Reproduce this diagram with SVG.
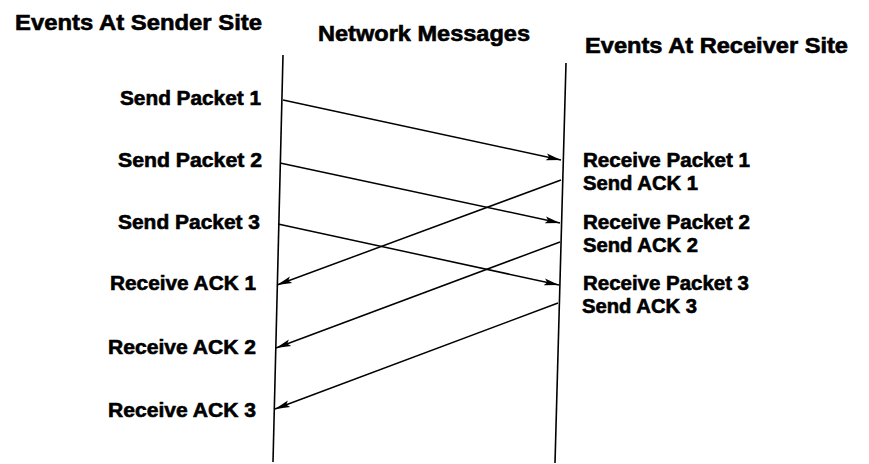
<svg xmlns="http://www.w3.org/2000/svg" width="869" height="464" viewBox="0 0 869 464">
<style>
text{font-family:"Liberation Sans",Arial,sans-serif;font-weight:bold;fill:#000;stroke:#000;stroke-width:0.6}
.h{font-size:22px}
.l{font-size:20.5px}
.ln{stroke:#000;stroke-width:1.6;fill:none}
.ar{stroke:#000;stroke-width:1.5;fill:none;marker-end:url(#ah)}
</style>
<defs>
<marker id="ah" markerWidth="16" markerHeight="10" refX="15" refY="5" orient="auto" markerUnits="userSpaceOnUse">
<path d="M0,1.5 L15,5 L0,8.5 L3,5 Z" fill="#000"/>
</marker>
</defs>
<rect width="869" height="464" fill="#fff"/>
<g id="headers">
<text class="h" x="15" y="30" textLength="247" lengthAdjust="spacingAndGlyphs">Events At Sender Site</text>
<text class="h" x="318" y="41" textLength="212" lengthAdjust="spacingAndGlyphs">Network Messages</text>
<text class="h" x="585" y="53" textLength="263" lengthAdjust="spacingAndGlyphs">Events At Receiver Site</text>
</g>
<g id="timelines">
<line class="ln" x1="283" y1="55" x2="273" y2="462"/>
<line class="ln" x1="566" y1="63" x2="555" y2="463"/>
</g>
<g id="sender-events">
<text class="l" x="120" y="105" textLength="141" lengthAdjust="spacingAndGlyphs">Send Packet 1</text>
<text class="l" x="118" y="167" textLength="144" lengthAdjust="spacingAndGlyphs">Send Packet 2</text>
<text class="l" x="118" y="229" textLength="142" lengthAdjust="spacingAndGlyphs">Send Packet 3</text>
<text class="l" x="110" y="290" textLength="146" lengthAdjust="spacingAndGlyphs">Receive ACK 1</text>
<text class="l" x="108" y="354" textLength="148" lengthAdjust="spacingAndGlyphs">Receive ACK 2</text>
<text class="l" x="108" y="417" textLength="148" lengthAdjust="spacingAndGlyphs">Receive ACK 3</text>
</g>
<g id="receiver-events">
<text class="l" x="583" y="167" textLength="167" lengthAdjust="spacingAndGlyphs">Receive Packet 1</text>
<text class="l" x="583" y="190" textLength="115" lengthAdjust="spacingAndGlyphs">Send ACK 1</text>
<text class="l" x="583" y="229" textLength="167" lengthAdjust="spacingAndGlyphs">Receive Packet 2</text>
<text class="l" x="583" y="252" textLength="115" lengthAdjust="spacingAndGlyphs">Send ACK 2</text>
<text class="l" x="583" y="290" textLength="166" lengthAdjust="spacingAndGlyphs">Receive Packet 3</text>
<text class="l" x="582" y="313" textLength="115" lengthAdjust="spacingAndGlyphs">Send ACK 3</text>
</g>
<g id="connectors">
<line class="ar" x1="283" y1="100" x2="561" y2="160"/>
<line class="ar" x1="280" y1="163" x2="560" y2="223"/>
<line class="ar" x1="278" y1="224" x2="559" y2="285"/>
<line class="ar" x1="561" y1="180" x2="277" y2="285"/>
<line class="ar" x1="560" y1="242" x2="276" y2="348"/>
<line class="ar" x1="558" y1="303" x2="275" y2="409"/>
</g>
</svg>
